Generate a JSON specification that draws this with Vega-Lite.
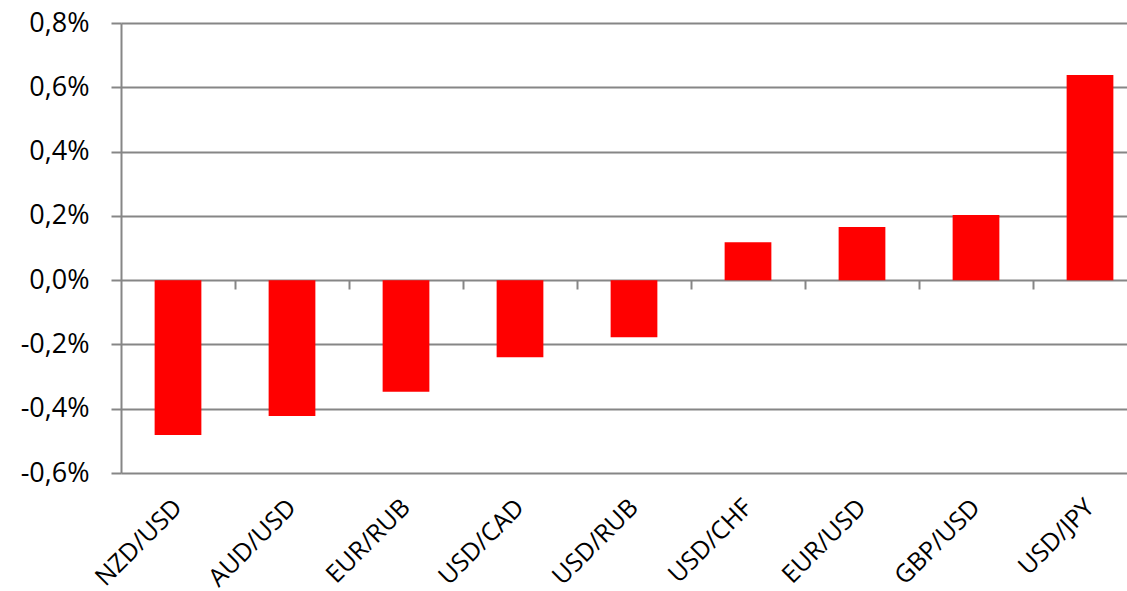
{
  "$schema": "https://vega.github.io/schema/vega-lite/v6.json",
  "autosize": {"type": "none"},
  "width": 1006,
  "height": 450,
  "padding": {"left": 121, "top": 23, "right": 0, "bottom": 118},
  "background": "white",
  "config": {
    "view": {"stroke": null},
    "font": "Open Sans"
  },
  "layer": [
    {
      "data": {
        "values": [
          {"pair": "NZD/USD", "change": -0.482},
          {"pair": "AUD/USD", "change": -0.423},
          {"pair": "EUR/RUB", "change": -0.347},
          {"pair": "USD/CAD", "change": -0.24},
          {"pair": "USD/RUB", "change": -0.178},
          {"pair": "USD/CHF", "change": 0.118},
          {"pair": "EUR/USD", "change": 0.165},
          {"pair": "GBP/USD", "change": 0.203},
          {"pair": "USD/JPY", "change": 0.638}
        ]
      },
      "mark": {"type": "bar", "color": "#ff0000"},
      "encoding": {
        "x": {
          "field": "pair",
          "type": "nominal",
          "sort": null,
          "scale": {"range": [0, 1026], "paddingInner": 0.59, "paddingOuter": 0.295},
          "axis": {
            "title": null,
            "orient": "bottom",
            "domain": false,
            "ticks": false,
            "labelAngle": -45,
            "labelAlign": "right",
            "labelBaseline": "middle",
            "labelFontSize": 25,
            "labelColor": "#000000",
            "labelPadding": 30
          }
        },
        "y": {
          "field": "change",
          "type": "quantitative",
          "scale": {"domain": [-0.6, 0.8], "nice": false, "zero": false},
          "axis": {
            "title": null,
            "values": [-0.6, -0.4, -0.2, 0, 0.2, 0.4, 0.6, 0.8],
            "labelExpr": "replace(replace(format(datum.value, '.1f'), '.', ','), '\u2212', '-') + '%'",
            "labelFontSize": 27,
            "labelColor": "#000000",
            "labelPadding": 22,
            "gridColor": "#868686",
            "gridWidth": 2,
            "tickColor": "#868686",
            "tickWidth": 2,
            "tickSize": 10,
            "domainColor": "#868686",
            "domainWidth": 2
          }
        }
      }
    },
    {
      "data": {
        "values": [
          {"edge": 1}, {"edge": 2}, {"edge": 3}, {"edge": 4},
          {"edge": 5}, {"edge": 6}, {"edge": 7}, {"edge": 8}
        ]
      },
      "mark": {"type": "point", "opacity": 0},
      "encoding": {
        "x": {
          "field": "edge",
          "type": "quantitative",
          "scale": {"domain": [0, 9], "range": [0, 1026], "nice": false, "zero": false},
          "axis": {
            "title": null,
            "orient": "bottom",
            "offset": -193,
            "values": [1, 2, 3, 4, 5, 6, 7, 8],
            "labels": false,
            "domain": false,
            "grid": false,
            "tickColor": "#868686",
            "tickWidth": 2,
            "tickSize": 9
          }
        }
      }
    }
  ],
  "resolve": {"scale": {"x": "independent"}, "axis": {"x": "independent"}}
}
